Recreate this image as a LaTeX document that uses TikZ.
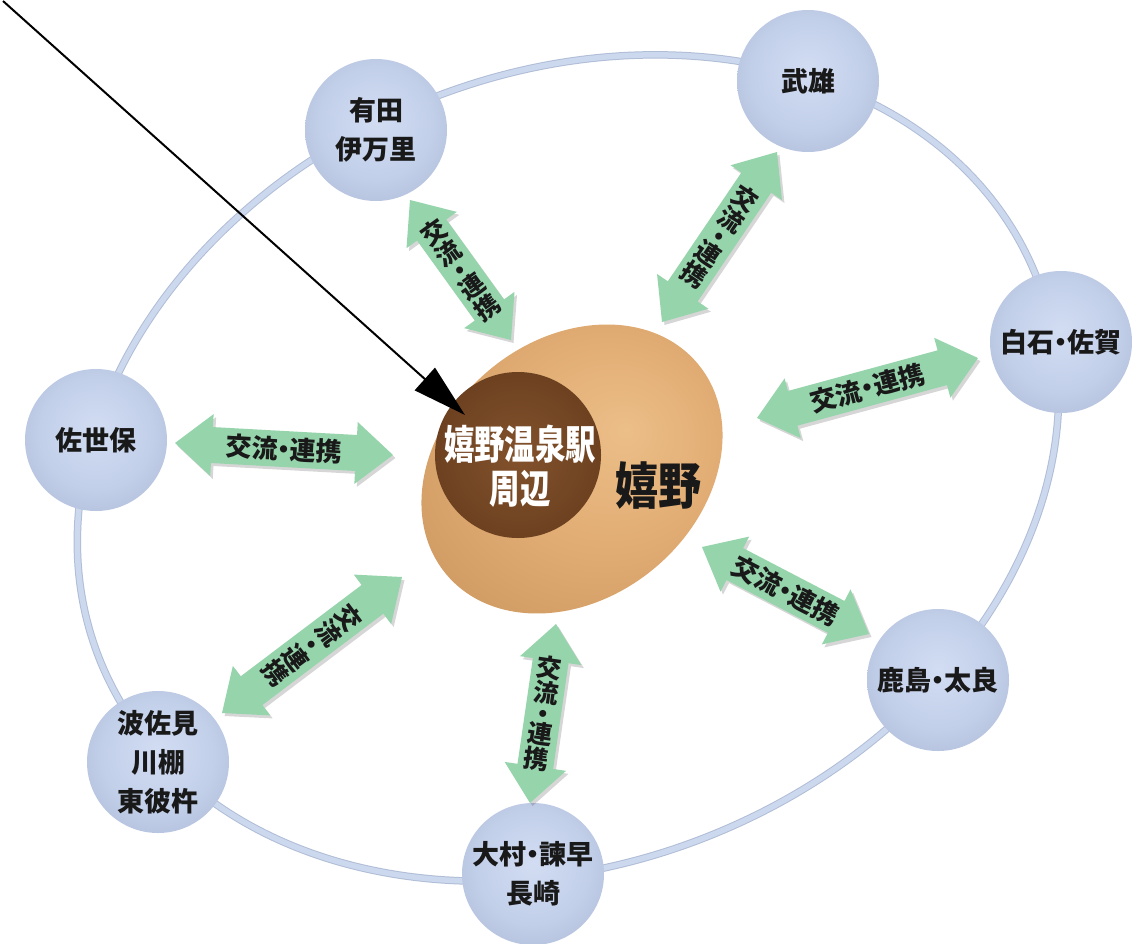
\documentclass[tikz,border=0pt]{standalone}
\usepackage{fontspec}
\newfontfamily\cjk[RawFeature=+palt]{Noto Sans CJK JP}
\newfontfamily\cjkv{Noto Sans CJK JP}
\newfontfamily\cjkn[FakeStretch=0.76]{Noto Sans CJK JP}
\newfontfamily\cjkm[FakeStretch=0.86]{Noto Sans CJK JP}
\usetikzlibrary{calc,arrows.meta,shapes.geometric}

\definecolor{cA}{RGB}{210,221,243}
\definecolor{cB}{RGB}{194,207,233}
\definecolor{cC}{RGB}{166,178,207}
\definecolor{cD}{RGB}{124,134,164}
\pgfdeclareradialshading{citysph}{\pgfpoint{0bp}{4bp}}{color(0bp)=(cA); color(20bp)=(cB); color(40bp)=(cC); color(50bp)=(cD)}

\definecolor{tA}{RGB}{236,190,136}
\definecolor{tB}{RGB}{224,171,114}
\definecolor{tC}{RGB}{198,146,90}
\definecolor{tD}{RGB}{160,112,62}
\pgfdeclareradialshading{tansph}{\pgfpoint{8bp}{6bp}}{color(0bp)=(tA); color(18bp)=(tB); color(38bp)=(tC); color(48bp)=(tD)}

\definecolor{bA}{RGB}{130,82,44}
\definecolor{bB}{RGB}{110,66,33}
\definecolor{bC}{RGB}{76,44,19}
\definecolor{bD}{RGB}{56,31,12}
\pgfdeclareradialshading{brownsph}{\pgfpoint{0bp}{0bp}}{color(0bp)=(bA); color(24bp)=(bB); color(42bp)=(bC); color(50bp)=(bD)}

\definecolor{ringc}{RGB}{203,216,238}
\definecolor{ringedge}{RGB}{176,189,214}
\definecolor{greenc}{RGB}{150,212,172}

\newdimen\gadx
\newdimen\gady
\newcommand\greenarrow[5]{%
  \pgfmathanglebetweenpoints{\pgfpointanchor{#1}{center}}{\pgfpointanchor{#2}{center}}%
  \xdef\garang{\pgfmathresult}%
  \pgfextractx{\gadx}{\pgfpointdiff{\pgfpointanchor{#1}{center}}{\pgfpointanchor{#2}{center}}}%
  \pgfextracty{\gady}{\pgfpointdiff{\pgfpointanchor{#1}{center}}{\pgfpointanchor{#2}{center}}}%
  \pgfmathveclen{\gadx}{\gady}%
  \xdef\garlen{\pgfmathresult}%
  \begin{scope}[shift={($(#1)+(2.5pt,-3pt)$)}, rotate=\garang]
    \fill[gshadow] (0pt,0pt) -- (37pt,31pt) -- (37pt,18pt) -- ({\garlen pt-37pt},18pt) -- ({\garlen pt-37pt},31pt) -- (\garlen pt,0pt) -- ({\garlen pt-37pt},-31pt) -- ({\garlen pt-37pt},-18pt) -- (37pt,-18pt) -- (37pt,-31pt) -- cycle;
  \end{scope}
  \begin{scope}[shift={(#1)}, rotate=\garang]
    \fill[gbody] (0pt,0pt) -- (37pt,31pt) -- (37pt,18pt) -- ({\garlen pt-37pt},18pt) -- ({\garlen pt-37pt},31pt) -- (\garlen pt,0pt) -- ({\garlen pt-37pt},-31pt) -- ({\garlen pt-37pt},-18pt) -- (37pt,-18pt) -- (37pt,-31pt) -- cycle;
  \end{scope}
  \node[#4, rotate=\garang+\csname garoff#4\endcsname] (#3) at ($(#1)!0.5!(#2)$) {#5};
}
\def\garoffhlabel{0}
\def\garoffvlabel{90}
\newcommand\vtext{交\\流\\[-5pt]・\\[-5pt]連\\携}

\begin{document}
\begin{tikzpicture}[x=1pt,y=-1pt,
  city/.style={circle, minimum size=142pt, inner sep=0pt, shading=citysph, align=center, text=black!90, font=\cjk\bfseries\fontsize{27}{39}\selectfont},
  ringout/.style={draw=ringedge, line width=7.5pt},
  ringin/.style={draw=ringc, line width=5.5pt},
  gbody/.style={fill=greenc},
  gshadow/.style={fill=black, opacity=0.16},
  hlabel/.style={font=\cjk\bfseries\fontsize{26}{26}\selectfont, text=black!90, inner sep=0pt},
  vlabel/.style={font=\cjkv\bfseries\fontsize{25}{25.5}\selectfont, text=black!90, inner sep=0pt, align=center},
  blackarrow/.style={draw=black, line width=2pt, -{Triangle[length=54pt,width=30pt]}}
]
\fill[white] (0,0) rectangle (1143,943);
\useasboundingbox (0,0) rectangle (1143,943);

% outer ring
\draw[ringout, shift={(568,468)}, rotate=23] (0,0) ellipse [x radius=506, y radius=394];
\draw[ringin, shift={(568,468)}, rotate=23] (0,0) ellipse [x radius=506, y radius=394];

% cities
\node[city] (arita) at (376,130) {有田\\伊万里};
\node[city] (takeo) at (808,81) {武雄};
\node[city] (shiroishi) at (1061,342) {白石・佐賀};
\node[city] (sasebo) at (96,440) {佐世保};
\node[city] (kashima) at (938,680) {鹿島・太良};
\node[city] (hasami) at (158,762) {波佐見\\川棚\\東彼杵};
\node[city] (omura) at (533,874) {大村・諫早\\長崎};

% centre
\node[ellipse, minimum width=328pt, minimum height=258pt, inner sep=0pt, rotate=40, shading=tansph] (ureshino) at (572,469) {};
\node[circle, minimum size=166pt, inner sep=0pt, shading=brownsph] (station) at (518,455) {};
\node[font=\cjkn\bfseries\fontsize{40}{44}\selectfont, text=white, align=center, inner sep=0pt] (stationtext) at (520,466) {嬉野温泉駅\\周辺};
\node[font=\cjkm\bfseries\fontsize{50}{50}\selectfont, text=black!90, inner sep=0pt] (ureshinotext) at (658,486) {嬉野};

% green arrows
\coordinate (a1s) at (410,200);  \coordinate (a1e) at (511,340);
\coordinate (a2s) at (777,152);  \coordinate (a2e) at (662,322);
\coordinate (a3s) at (757,418);  \coordinate (a3e) at (978,358);
\coordinate (a4s) at (175,443);  \coordinate (a4e) at (393,455);
\coordinate (a5s) at (702,547);  \coordinate (a5e) at (869,634);
\coordinate (a6s) at (402,577);  \coordinate (a6e) at (222,713);
\coordinate (a7s) at (556,624);  \coordinate (a7e) at (530,803);

\greenarrow{a1s}{a1e}{l1}{vlabel}{\vtext}
\greenarrow{a2s}{a2e}{l2}{vlabel}{\vtext}
\greenarrow{a3s}{a3e}{l3}{hlabel}{交流・連携}
\greenarrow{a4s}{a4e}{l4}{hlabel}{交流・連携}
\greenarrow{a5s}{a5e}{l5}{hlabel}{交流・連携}
\greenarrow{a6s}{a6e}{l6}{vlabel}{\vtext}
\greenarrow{a7s}{a7e}{l7}{vlabel}{\vtext}

% black pointer
\coordinate (bs) at (3,1);
\coordinate (bt) at (465,415);
\draw[blackarrow] (bs) -- (bt);
\end{tikzpicture}
\end{document}
